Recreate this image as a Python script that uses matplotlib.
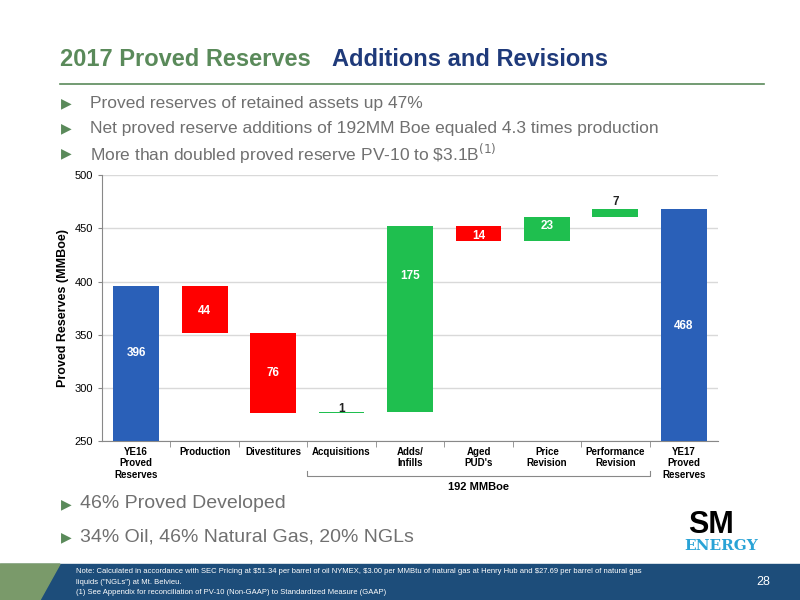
import matplotlib
matplotlib.use("Agg")
import matplotlib.pyplot as plt
from matplotlib.patches import Polygon, Rectangle

categories = ["YE16\nProved\nReserves", "Production", "Divestitures", "Acquisitions",
              "Adds/\nInfills", "Aged\nPUD's", "Price\nRevision", "Performance\nRevision",
              "YE17\nProved\nReserves"]
changes = [396, -44, -76, 1, 175, -14, 23, 7, 468]
labels = ["396", "44", "76", "1", "175", "14", "23", "7", "468"]

plt.rcParams['font.family'] = ['Liberation Sans', 'DejaVu Sans']
GREEN = "#5a8a5a"
NAVY = "#1f3a7a"
BLUE = "#2a60b8"
RED = "#ff0000"
BGREEN = "#1fbf4f"

fig = plt.figure(figsize=(8, 6), dpi=100)
fig.text(0.075, 0.9, "2017 Proved Reserves", color=GREEN, fontsize=17, fontweight="bold", va="center")
fig.text(0.415, 0.9, "Additions and Revisions", color=NAVY, fontsize=17, fontweight="bold", va="center")
fig.add_artist(plt.Line2D([0.075, 0.955], [0.86, 0.86], color=GREEN, lw=1.2))
bul = ["Proved reserves of retained assets up 47%",
       "Net proved reserve additions of 192MM Boe equaled 4.3 times production",
       "More than doubled proved reserve PV-10 to \\$3.1B$^{(1)}$"]
for i, b in enumerate(bul):
    y = 0.828 - i * 0.042
    fig.text(0.076, y, "▶", color=GREEN, fontsize=10, va="center", family=['DejaVu Sans'])
    fig.text(0.113, y, b, color="#707070", fontsize=12.5, va="center")
for i, b in enumerate(["46% Proved Developed", "34% Oil, 46% Natural Gas, 20% NGLs"]):
    y = 0.16 - i * 0.055
    fig.text(0.076, y, "▶", color=GREEN, fontsize=10, va="center", family=['DejaVu Sans'])
    fig.text(0.1, y, b, color="#707070", fontsize=14, va="center")

ax = fig.add_axes([0.1275, 0.265, 0.77, 0.443])
run = 0
n = len(changes)
for i, v in enumerate(changes):
    if i == 0 or i == n - 1:
        bottom, h, c = 0, v, BLUE
        run = v
    else:
        if v >= 0:
            bottom, h, c = run, v, BGREEN
        else:
            bottom, h, c = run + v, -v, RED
        run += v
    ax.bar(i, h, bottom=bottom, width=0.67, color=c, zorder=3)
    if i == 0:
        ty = 333
    elif i == n - 1:
        ty = 358
    elif labels[i] == "14":
        ty = bottom + h / 2 - 2
    elif labels[i] == "23":
        ty = bottom + h / 2 + 3
    elif labels[i] == "7":
        ty = bottom + h + 7
    elif labels[i] == "1":
        ty = bottom + 4
    elif labels[i] == "175":
        ty = 405
    else:
        ty = bottom + h / 2 + (-2 if labels[i] == "44" else 0)
    ax.text(i, ty, labels[i], ha="center", va="center", color="white" if labels[i] not in ("7", "1") else "#222",
            fontsize=8.5, fontweight="bold", zorder=4)
ax.set_ylim(250, 500)
ax.set_xlim(-0.5, n - 0.5)
ax.set_yticks(range(250, 501, 50))
ax.yaxis.grid(True, color="#d9d9d9", lw=1, zorder=0)
ax.set_xticks(range(n))
ax.set_xticklabels(categories, fontsize=7, fontweight="bold")
ax.tick_params(axis="y", labelsize=8, length=3, color="#888")
ax.tick_params(axis="x", length=0, pad=4)
ax.set_xticks([i + 0.5 for i in range(n - 1)], minor=True)
ax.tick_params(axis="x", which="minor", length=4, color="#888")
for s in ["top", "right"]:
    ax.spines[s].set_visible(False)
for s in ["left", "bottom"]:
    ax.spines[s].set_color("#888")
ax.set_ylabel("Proved Reserves (MMBoe)", fontsize=9, fontweight="bold")
bx0, bx1 = 2.5, 7.5
ax.plot([bx0, bx0, bx1, bx1], [222, 217, 217, 222], color="#888", lw=0.8, clip_on=False)
ax.text(5.0, 207, "192 MMBoe", ha="center", va="center", fontsize=8, fontweight="bold", clip_on=False)

fig.text(0.86, 0.125, "SM", fontsize=22, fontweight="bold", color="black", va="center")
fig.text(0.855, 0.09, "ENERGY", fontsize=11, fontweight="bold", color="#29a3d6", va="center", family=['DejaVu Serif'])

fig.add_artist(Rectangle((0, 0), 1, 0.06, transform=fig.transFigure, color="#1d4d7a"))
fig.add_artist(Polygon([[0, 0], [0.05, 0], [0.075, 0.06], [0, 0.06]], closed=True,
                       transform=fig.transFigure, color="#7a9a6a"))
fig.text(0.095, 0.048, "Note: Calculated in accordance with SEC Pricing at \\$51.34 per barrel of oil NYMEX, \\$3.00 per MMBtu of natural gas at Henry Hub and \\$27.69 per barrel of natural gas",
         fontsize=5.5, color="white", va="center")
fig.text(0.095, 0.03, "liquids (\"NGLs\") at Mt. Belvieu.", fontsize=5.5, color="white", va="center")
fig.text(0.095, 0.012, "(1) See Appendix for reconciliation of PV-10 (Non-GAAP) to Standardized Measure (GAAP)",
         fontsize=5.5, color="white", va="center")
fig.text(0.945, 0.03, "28", fontsize=9, color="white", va="center")
fig.savefig("out.png", dpi=100)
